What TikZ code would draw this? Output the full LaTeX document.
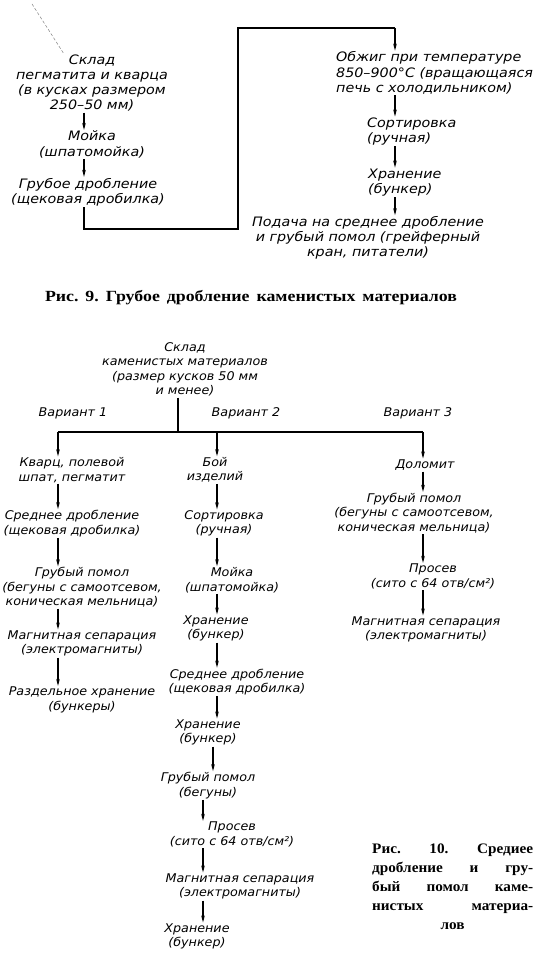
\documentclass[tikz,border=0pt]{standalone}
\usepackage{fontspec}
\setmainfont{DejaVu Sans}
\newfontfamily\diag[FakeStretch=1.06]{DejaVu Sans}
\newfontfamily\diagtop[FakeStretch=1.1]{DejaVu Sans}
\newfontfamily\capnine[FakeStretch=1.15]{Liberation Serif}
\newfontfamily\capten[FakeStretch=1.05]{Liberation Serif}
\usetikzlibrary{arrows.meta,calc}
\tikzset{
  lbl/.style={font=\diag\itshape\fontsize{12}{14.5}\selectfont, align=center, inner sep=1pt},
  lbltop/.style={lbl, font=\diagtop\itshape\fontsize{13}{15.2}\selectfont},
  arr/.style={line width=1.1pt, -{Stealth[length=7pt,width=3.6pt]}},
  ln/.style={line width=1.1pt},
  captnine/.style={font=\capnine\bfseries\fontsize{15.5}{18}\selectfont, inner sep=0pt},
  captten/.style={font=\capten\bfseries\fontsize{14.5}{18.8}\selectfont, inner sep=0pt, align=left}
}
\begin{document}
\begin{tikzpicture}[x=1pt,y=-1pt]
\useasboundingbox (0,0) rectangle (550,958);
% stray pointer line
\draw[line width=0.5pt, gray, densely dashed] (32,4) -- (64,54);
% ---------- Fig. 9 ----------
\node[lbltop] (a1) at (92,83) {Склад\\пегматита и кварца\\(в кусках размером\\250–50 мм)};
\node[lbltop] (a2) at (92,144.5) {Мойка\\(шпатомойка)};
\node[lbltop] (a3) at (88,192) {Грубое дробление\\(щековая дробилка)};
\node[lbltop, align=left, anchor=west] (b1) at (335,73) {Обжиг при температуре\\850–900°C (вращающаяся\\печь с холодильником)};
\node[lbltop, align=left, anchor=west] (b2) at (366,131.5) {Сортировка\\(ручная)};
\node[lbltop, align=left, anchor=west] (b3) at (367,182.5) {Хранение\\(бункер)};
\node[lbltop] (b4) at (368,238) {Подача на среднее дробление\\и грубый помол (грейферный\\кран, питатели)};
\coordinate (xa) at (84,0);
\coordinate (xb) at (395,0);
\coordinate (t1) at (84,229);
\coordinate (t2) at (238,229);
\coordinate (t3) at (238,28);
\coordinate (t4) at (395,28);
\draw[arr] (a1.south -| xa) -- (a2.north -| xa);
\draw[arr] (a2.south -| xa) -- (a3.north -| xa);
\draw[ln] (a3.south -| xa) -- (t1) -- (t2) -- (t3) -- (t4);
\draw[arr] (t4) -- (b1.north -| xb);
\draw[arr] (b1.south -| xb) -- (b2.north -| xb);
\draw[arr] (b2.south -| xb) -- (b3.north -| xb);
\draw[arr] (b3.south -| xb) -- (b4.north -| xb);
\node[captnine] (cap9) at (251,298) {\hbox to 412pt{Рис.\hfill 9.\hfill Грубое\hfill дробление\hfill каменистых\hfill материалов}};
% ---------- Fig. 10 ----------
\node[lbl] (s) at (185,369.5) {Склад\\каменистых материалов\\(размер кусков 50 мм\\и менее)};
\node[lbl] (v1) at (73,413) {Вариант 1};
\node[lbl] (v2) at (246,413) {Вариант 2};
\node[lbl] (v3) at (418,413) {Вариант 3};
\coordinate (x1) at (58,0);
\coordinate (x2) at (217,0);
\coordinate (x2b) at (213,0);
\coordinate (x2c) at (203,0);
\coordinate (x3) at (423,0);
\coordinate (xs) at (178,0);
\coordinate (h0) at (178,432);
\coordinate (h1) at (58,432);
\coordinate (h2) at (217,432);
\coordinate (h3) at (423,432);
% column 1
\node[lbl] (k1) at (72,470) {Кварц, полевой\\шпат, пегматит};
\node[lbl] (k2) at (72,523.5) {Среднее дробление\\(щековая дробилка)};
\node[lbl] (k3) at (82,587.5) {Грубый помол\\(бегуны с самоотсевом,\\коническая мельница)};
\node[lbl] (k4) at (82,643.5) {Магнитная сепарация\\(электромагниты)};
\node[lbl] (k5) at (82,700) {Раздельное хранение\\(бункеры)};
% column 2
\node[lbl] (m1) at (215,470) {Бой\\изделий};
\node[lbl] (m2) at (224,523.5) {Сортировка\\(ручная)};
\node[lbl] (m3) at (232,580) {Мойка\\(шпатомойка)};
\node[lbl] (m4) at (216,628.5) {Хранение\\(бункер)};
\node[lbl] (m5) at (237,682) {Среднее дробление\\(щековая дробилка)};
\node[lbl] (m6) at (208,732.5) {Хранение\\(бункер)};
\node[lbl] (m7) at (208,785.5) {Грубый помол\\(бегуны)};
\node[lbl] (m8) at (232,834.5) {Просев\\(сито с 64 отв/см²)};
\node[lbl] (m9) at (240,886.5) {Магнитная сепарация\\(электромагниты)};
\node[lbl] (m10) at (197,936.5) {Хранение\\(бункер)};
% column 3
\node[lbl] (d1) at (425,465) {Доломит};
\node[lbl] (d2) at (414,513) {Грубый помол\\(бегуны с самоотсевом,\\коническая мельница)};
\node[lbl] (d3) at (433,576.5) {Просев\\(сито с 64 отв/см²)};
\node[lbl] (d4) at (426,629.5) {Магнитная сепарация\\(электромагниты)};
% connectors
\draw[ln] (s.south -| xs) -- (h0);
\draw[ln] (h1) -- (h3);
\draw[arr] (h1) -- (k1.north -| x1);
\draw[arr] (h2) -- (m1.north -| x2);
\draw[arr] (h3) -- (d1.north -| x3);
\draw[arr] (k1.south -| x1) -- (k2.north -| x1);
\draw[arr] (k2.south -| x1) -- (k3.north -| x1);
\draw[arr] (k3.south -| x1) -- (k4.north -| x1);
\draw[arr] (k4.south -| x1) -- (k5.north -| x1);
\draw[arr] (m1.south -| x2) -- (m2.north -| x2);
\draw[arr] (m2.south -| x2) -- (m3.north -| x2);
\draw[arr] (m3.south -| x2) -- (m4.north -| x2);
\draw[arr] (m4.south -| x2) -- (m5.north -| x2);
\draw[arr] (m5.south -| x2) -- (m6.north -| x2);
\draw[arr] (m6.south -| x2b) -- (m7.north -| x2b);
\draw[arr] (m7.south -| x2c) -- (m8.north -| x2c);
\draw[arr] (m8.south -| x2c) -- (m9.north -| x2c);
\draw[arr] (m9.south -| x2c) -- (m10.north -| x2c);
\draw[arr] (d1.south -| x3) -- (d2.north -| x3);
\draw[arr] (d2.south -| x3) -- (d3.north -| x3);
\draw[arr] (d3.south -| x3) -- (d4.north -| x3);
\node[captten, anchor=north west] (cap10) at (372,844) {\hbox to 161pt{Рис.\hfill 10.\hfill Средиее}\\\hbox to 161pt{дробление\hfill и\hfill гру-}\\\hbox to 161pt{бый\hfill помол\hfill каме-}\\\hbox to 161pt{нистых\hfill материа-}\\\hbox to 161pt{\hfill лов\hfill}};
\end{tikzpicture}
\end{document}
